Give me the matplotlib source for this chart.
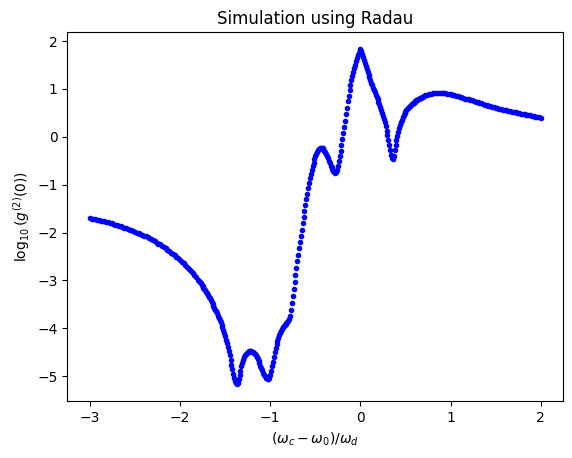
import numpy as np
import matplotlib
matplotlib.use("Agg")
import matplotlib.pyplot as plt

# values, (wc - w0)/wd and log10 g2(0)
# far left tail
det_tail = [-3.00, -2.98, -2.96, -2.94, -2.92, -2.90, -2.88, -2.86, -2.84, -2.82,
            -2.80, -2.78, -2.76, -2.74, -2.72, -2.70, -2.68, -2.66, -2.64, -2.62,
            -2.60, -2.58, -2.56, -2.54, -2.52, -2.50, -2.48, -2.46, -2.44, -2.42,
            -2.40, -2.38, -2.36, -2.34, -2.32, -2.30, -2.28, -2.26, -2.24, -2.22,
            -2.20]
g2_tail = [-1.70, -1.71, -1.72, -1.72, -1.73, -1.74, -1.75, -1.76, -1.77, -1.78,
           -1.79, -1.80, -1.81, -1.83, -1.84, -1.85, -1.86, -1.87, -1.89, -1.90,
           -1.91, -1.93, -1.94, -1.95, -1.97, -1.98, -2.00, -2.01, -2.03, -2.05,
           -2.07, -2.08, -2.10, -2.12, -2.14, -2.16, -2.18, -2.21, -2.23, -2.25,
           -2.28]

# falling edge before the first dip
det_fall = [-2.18, -2.16, -2.14, -2.12, -2.10, -2.08, -2.06, -2.04, -2.02, -2.00,
            -1.98, -1.96, -1.94, -1.92, -1.90, -1.88, -1.86, -1.84, -1.82,
            -1.80, -1.79, -1.78, -1.77, -1.76, -1.75, -1.74, -1.73, -1.72, -1.71,
            -1.70, -1.69, -1.68, -1.67, -1.66, -1.65, -1.64, -1.63, -1.62, -1.61,
            -1.60, -1.59, -1.58, -1.57, -1.56, -1.55, -1.54, -1.53, -1.52]
g2_fall = [-2.30, -2.33, -2.36, -2.39, -2.42, -2.45, -2.48, -2.51, -2.54, -2.57,
           -2.61, -2.64, -2.68, -2.72, -2.76, -2.80, -2.85, -2.89, -2.94,
           -2.99, -3.01, -3.04, -3.06, -3.09, -3.12, -3.15, -3.18, -3.21, -3.24,
           -3.27, -3.30, -3.34, -3.37, -3.41, -3.45, -3.49, -3.53, -3.57, -3.61,
           -3.65, -3.69, -3.74, -3.78, -3.83, -3.88, -3.93, -3.98, -4.04]

# dips, steep rise and the main peak
det_mid = [-1.51, -1.50, -1.49, -1.48, -1.47, -1.46, -1.45, -1.44, -1.43, -1.42,
           -1.41, -1.40, -1.39, -1.38, -1.37, -1.36, -1.35, -1.34, -1.33, -1.32,
           -1.31, -1.30, -1.29, -1.28, -1.27, -1.26, -1.25, -1.24, -1.23, -1.22,
           -1.21, -1.20, -1.19, -1.18, -1.17, -1.16, -1.15, -1.14, -1.13, -1.12,
           -1.11, -1.10, -1.09, -1.08, -1.07, -1.06, -1.05, -1.04, -1.03, -1.02,
           -1.01, -1.00, -0.99, -0.98, -0.97, -0.96, -0.95, -0.94, -0.93, -0.92,
           -0.91, -0.90, -0.89, -0.88, -0.87, -0.86, -0.85, -0.84, -0.83, -0.82,
           -0.81, -0.80, -0.79, -0.78, -0.77, -0.76, -0.75, -0.74, -0.73, -0.72,
           -0.71, -0.70, -0.69, -0.68, -0.67, -0.66, -0.65, -0.64, -0.63, -0.62,
           -0.61, -0.60, -0.59, -0.58, -0.57, -0.56, -0.55, -0.54, -0.53, -0.52,
           -0.51, -0.50, -0.49, -0.48, -0.47, -0.46, -0.45, -0.44, -0.43, -0.42,
           -0.41, -0.40, -0.39, -0.38, -0.37, -0.36, -0.35, -0.34, -0.33, -0.32,
           -0.31, -0.30, -0.29, -0.28, -0.27, -0.26, -0.25, -0.24, -0.23, -0.22,
           -0.21, -0.20, -0.19, -0.18, -0.17, -0.16, -0.15, -0.14, -0.13, -0.12,
           -0.11, -0.10, -0.09, -0.08, -0.07, -0.06, -0.05, -0.04, -0.03, -0.02,
           -0.01, 0.00, 0.01, 0.02, 0.03, 0.04, 0.05, 0.06, 0.07, 0.08,
           0.09, 0.10, 0.11, 0.12, 0.13, 0.14, 0.15, 0.16, 0.17, 0.18,
           0.19, 0.20, 0.21, 0.22, 0.23, 0.24, 0.25, 0.26, 0.27, 0.28,
           0.29, 0.30, 0.31, 0.32, 0.33, 0.34, 0.35, 0.36, 0.37, 0.38,
           0.39, 0.40, 0.41, 0.42, 0.43, 0.44, 0.45, 0.46, 0.47, 0.48,
           0.49, 0.50, 0.51, 0.52, 0.53, 0.54, 0.55, 0.56, 0.57, 0.58,
           0.59, 0.60, 0.61, 0.62, 0.63, 0.64, 0.65, 0.66, 0.67, 0.68,
           0.69, 0.70]
g2_mid = [-4.10, -4.17, -4.24, -4.31, -4.39, -4.48, -4.57, -4.66, -4.76, -4.86,
          -4.95, -5.03, -5.10, -5.15, -5.17, -5.14, -5.07, -4.98, -4.89, -4.80,
          -4.72, -4.66, -4.61, -4.57, -4.54, -4.52, -4.50, -4.49, -4.48, -4.48,
          -4.48, -4.49, -4.50, -4.52, -4.54, -4.57, -4.60, -4.64, -4.68, -4.73,
          -4.78, -4.83, -4.88, -4.93, -4.97, -5.00, -5.03, -5.05, -5.06, -5.06,
          -5.03, -4.97, -4.89, -4.80, -4.70, -4.60, -4.50, -4.41, -4.33, -4.26,
          -4.20, -4.14, -4.09, -4.05, -4.01, -3.98, -3.96, -3.94, -3.92, -3.90,
          -3.88, -3.85, -3.80, -3.74, -3.62, -3.48, -3.33, -3.18, -3.03, -2.88,
          -2.74, -2.60, -2.46, -2.33, -2.20, -2.07, -1.94, -1.81, -1.68, -1.55,
          -1.43, -1.31, -1.19, -1.08, -0.97, -0.87, -0.78, -0.69, -0.61, -0.54,
          -0.47, -0.41, -0.36, -0.31, -0.28, -0.25, -0.24, -0.23, -0.23, -0.24,
          -0.26, -0.29, -0.32, -0.36, -0.40, -0.45, -0.50, -0.55, -0.60, -0.64,
          -0.68, -0.71, -0.73, -0.75, -0.74, -0.70, -0.61, -0.51, -0.40, -0.29,
          -0.17, -0.05, 0.07, 0.20, 0.33, 0.47, 0.60, 0.74, 0.86, 0.97,
          1.08, 1.18, 1.27, 1.36, 1.44, 1.51, 1.58, 1.64, 1.70, 1.76,
          1.81, 1.84, 1.80, 1.74, 1.67, 1.60, 1.54, 1.48, 1.42, 1.36,
          1.30, 1.24, 1.18, 1.13, 1.08, 1.03, 0.98, 0.93, 0.88, 0.83,
          0.78, 0.73, 0.68, 0.62, 0.56, 0.50, 0.44, 0.37, 0.30, 0.22,
          0.13, 0.04, -0.06, -0.17, -0.28, -0.38, -0.45, -0.47, -0.40, -0.28,
          -0.17, -0.07, 0.02, 0.10, 0.18, 0.25, 0.31, 0.36, 0.41, 0.45,
          0.49, 0.52, 0.55, 0.58, 0.60, 0.62, 0.64, 0.66, 0.68, 0.70,
          0.71, 0.73, 0.74, 0.76, 0.77, 0.79, 0.80, 0.81, 0.82, 0.83,
          0.84, 0.85]

# slow decay on the right
det_right = [0.72, 0.74, 0.76, 0.78, 0.80, 0.82, 0.84, 0.86, 0.88, 0.90,
             0.92, 0.94, 0.96, 0.98, 1.00, 1.02, 1.04, 1.06, 1.08, 1.10,
             1.12, 1.14, 1.16, 1.18, 1.20, 1.22, 1.24, 1.26, 1.28, 1.30,
             1.32, 1.34, 1.36, 1.38, 1.40, 1.42, 1.44, 1.46, 1.48, 1.50,
             1.52, 1.54, 1.56, 1.58, 1.60, 1.62, 1.64, 1.66, 1.68, 1.70,
             1.72, 1.74, 1.76, 1.78, 1.80, 1.82, 1.84, 1.86, 1.88, 1.90,
             1.92, 1.94, 1.96, 1.98, 2.00]
g2_right = [0.87, 0.88, 0.89, 0.90, 0.91, 0.91, 0.92, 0.92, 0.92, 0.92,
            0.91, 0.91, 0.90, 0.89, 0.89, 0.88, 0.87, 0.86, 0.85, 0.84,
            0.83, 0.82, 0.80, 0.79, 0.78, 0.77, 0.76, 0.74, 0.73, 0.72,
            0.71, 0.70, 0.69, 0.67, 0.66, 0.65, 0.64, 0.63, 0.62, 0.61,
            0.60, 0.59, 0.58, 0.57, 0.56, 0.55, 0.54, 0.53, 0.52, 0.52,
            0.51, 0.50, 0.49, 0.48, 0.48, 0.47, 0.46, 0.45, 0.45, 0.44,
            0.43, 0.42, 0.42, 0.41, 0.40]

detuning = np.array(det_tail + det_fall + det_mid + det_right)
log_g2 = np.array(g2_tail + g2_fall + g2_mid + g2_right)

fig = plt.figure(figsize=(5.72, 4.58), dpi=100)
ax = fig.add_axes([0.1177, 0.1245, 0.8671, 0.8057])
ax.plot(detuning, log_g2, 'b.')
ax.set_xlabel(r'$(\omega_c-\omega_0)/\omega_d$')
ax.set_ylabel(r'$\log_{10}(g^{(2)}(0))$')
ax.set_title('Simulation using Radau')

fig.savefig('out.png', dpi=100)
